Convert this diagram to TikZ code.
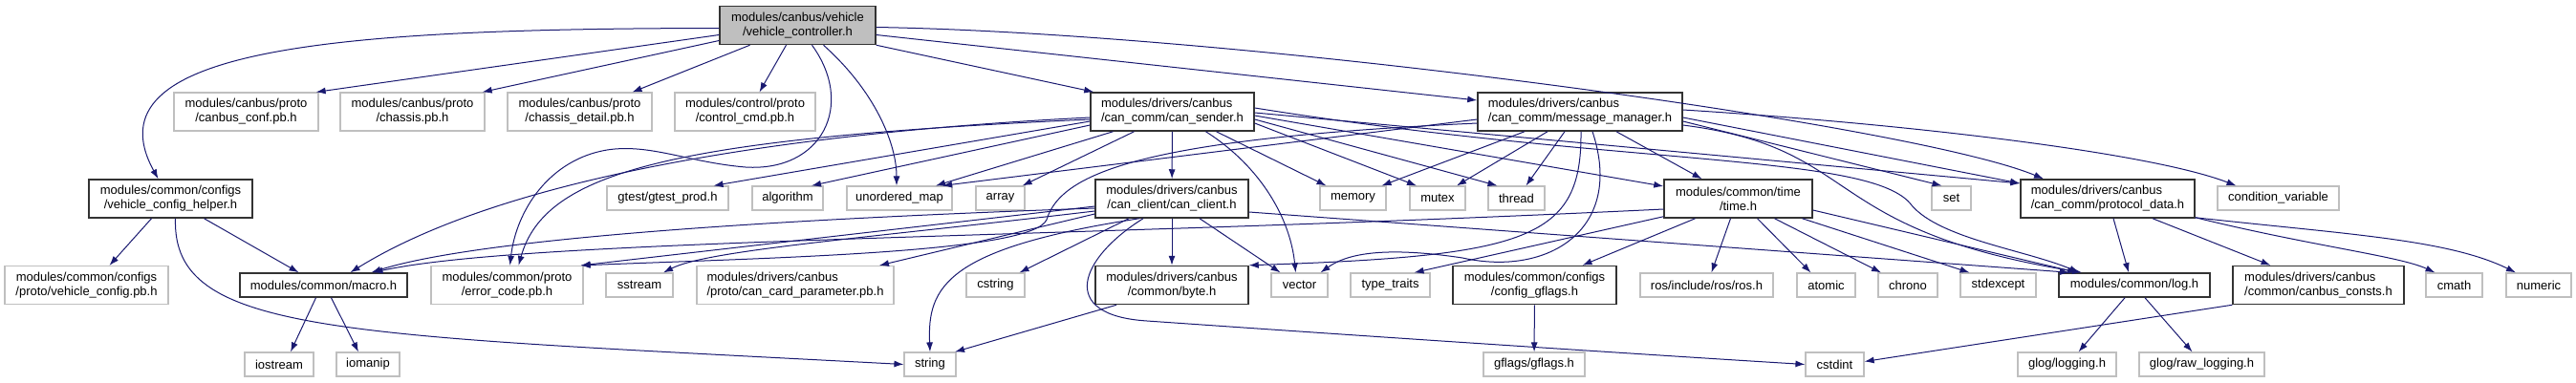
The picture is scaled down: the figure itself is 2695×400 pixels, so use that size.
\documentclass[tikz,border=0pt]{standalone}
\usepackage{fontspec}
\setmainfont{Liberation Sans}
\usepackage{xcolor}
\usepackage{tikz}
\usetikzlibrary{arrows.meta}
\definecolor{edgeblue}{HTML}{191970}
\definecolor{extgray}{HTML}{BFBFBF}
\newcommand{\gfont}{\fontsize{13}{15}\selectfont}
\tikzset{
  ext/.style={draw=extgray, line width=1.2pt, fill=white, align=center, inner xsep=2pt, inner ysep=2pt, minimum height=25pt},
  doc/.style={ext, draw=black!80, line width=1.5pt},
  root/.style={doc, fill=extgray},
  two/.style={minimum height=40pt},
  inc/.style={-{Latex[length=10pt,width=7pt]}, draw=edgeblue, line width=1pt},
}

\begin{document}
\begin{tikzpicture}[x=1pt, y=-1pt, font=\gfont]
  \useasboundingbox (0,0) rectangle (2695,400);
  \node[root, two, minimum width=163pt] (vc) at (834.5,26.5) {modules/canbus/vehicle\\/vehicle\_controller.h};
  \node[doc, two, minimum width=171pt] (vch) at (178.5,208) {modules/common/configs\\/vehicle\_config\_helper.h};
  \node[ext, two, minimum width=151pt] (canbusconf) at (257.5,117) {modules/canbus/proto\\/canbus\_conf.pb.h};
  \node[ext, two, minimum width=151pt] (chassis) at (431.5,117) {modules/canbus/proto\\/chassis.pb.h};
  \node[ext, two, minimum width=151pt] (chassisdetail) at (606.5,117) {modules/canbus/proto\\/chassis\_detail.pb.h};
  \node[ext, two, minimum width=147pt] (controlcmd) at (779.5,117) {modules/control/proto\\/control\_cmd.pb.h};
  \node[doc, two, minimum width=171pt, align=left] (cansender) at (1226.5,117) {modules/drivers/canbus\\/can\_comm/can\_sender.h};
  \node[doc, two, minimum width=214pt, align=left] (msgmanager) at (1653,117) {modules/drivers/canbus\\/can\_comm/message\_manager.h};
  \node[ext, minimum width=127pt] (gtest) at (698.5,207.5) {gtest/gtest\_prod.h};
  \node[ext, minimum width=74pt] (algorithm) at (824,207.5) {algorithm};
  \node[ext, minimum width=110pt] (umap) at (941,207.5) {unordered\_map};
  \node[ext, minimum width=51pt] (array) at (1046.5,207.5) {array};
  \node[doc, two, minimum width=160pt] (canclient) at (1226,208) {modules/drivers/canbus\\/can\_client/can\_client.h};
  \node[ext, minimum width=69pt] (memory) at (1415.5,207.5) {memory};
  \node[ext, minimum width=58pt] (mutex) at (1504,207.5) {mutex};
  \node[ext, minimum width=59pt] (thread) at (1586.5,207.5) {thread};
  \node[doc, two, minimum width=155pt] (time) at (1818.5,208) {modules/common/time\\/time.h};
  \node[ext, minimum width=41pt] (set) at (2041.5,207.5) {set};
  \node[doc, two, minimum width=182pt, align=left] (protocol) at (2205,208) {modules/drivers/canbus\\/can\_comm/protocol\_data.h};
  \node[ext, minimum width=127pt] (condvar) at (2383.5,207.5) {condition\_variable};
  \node[ext, two, minimum width=171pt] (vehcfgpb) at (90.5,298.5) {modules/common/configs\\/proto/vehicle\_config.pb.h};
  \node[doc, minimum width=175pt] (macro) at (338.5,298.5) {modules/common/macro.h};
  \node[ext, two, minimum width=159pt] (errorcode) at (530.5,298.5) {modules/common/proto\\/error\_code.pb.h};
  \node[ext, minimum width=70pt] (sstream) at (669,298.5) {sstream};
  \node[ext, two, minimum width=206pt, align=left] (cancard) at (832,298.5) {modules/drivers/canbus\\/proto/can\_card\_parameter.pb.h};
  \node[ext, minimum width=61pt] (cstring) at (1041.5,298.5) {cstring};
  \node[doc, two, minimum width=160pt] (byte) at (1226,298.5) {modules/drivers/canbus\\/common/byte.h};
  \node[ext, minimum width=59pt] (vector) at (1359.5,298.5) {vector};
  \node[ext, minimum width=83pt] (typetraits) at (1454.5,298.5) {type\_traits};
  \node[doc, two, minimum width=171pt] (cfggflags) at (1605.5,298.5) {modules/common/configs\\/config\_gflags.h};
  \node[ext, minimum width=139pt] (ros) at (1785.5,298.5) {ros/include/ros/ros.h};
  \node[ext, minimum width=61pt] (atomic) at (1910.5,298.5) {atomic};
  \node[ext, minimum width=62pt] (chrono) at (1996,298.5) {chrono};
  \node[ext, minimum width=79pt] (stdexcept) at (2090.5,298.5) {stdexcept};
  \node[doc, minimum width=158pt] (log) at (2233,298.5) {modules/common/log.h};
  \node[doc, two, minimum width=179pt, align=left] (consts) at (2425.5,298.5) {modules/drivers/canbus\\/common/canbus\_consts.h};
  \node[ext, minimum width=59pt] (cmath) at (2567.5,298.5) {cmath};
  \node[ext, minimum width=68pt] (numeric) at (2656,298.5) {numeric};
  \node[ext, minimum width=72pt] (iostream) at (292,381.5) {iostream};
  \node[ext, minimum width=66pt] (iomanip) at (385,381.5) {iomanip};
  \node[ext, minimum width=54pt] (string) at (973,381.5) {string};
  \node[ext, minimum width=106pt] (gflags) at (1605,381.5) {gflags/gflags.h};
  \node[ext, minimum width=61pt] (cstdint) at (1919.5,381.5) {cstdint};
  \node[ext, minimum width=103pt] (glog) at (2162.5,381.5) {glog/logging.h};
  \node[ext, minimum width=131pt] (rawlog) at (2303.5,381.5) {glog/raw\_logging.h};
  % vehicle_controller.h
  \draw[inc] ([yshift=-3pt]vc.west) .. controls (350,30) and (90,50) .. ([xshift=-13pt]vch.north);
  \draw[inc] ([yshift=-10pt]vc.west) -- ([xshift=-3pt]canbusconf.north east);
  \draw[inc] ([yshift=-16pt]vc.west) -- ([xshift=-3pt]chassis.north east);
  \draw[inc] ([xshift=-50pt]vc.south) -- ([xshift=55pt]chassisdetail.north);
  \draw[inc] ([xshift=-12pt]vc.south) -- ([xshift=15pt]controlcmd.north);
  \draw[inc] ([xshift=15pt]vc.south) .. controls (895,110) and (860,180) .. (780,175) .. controls (720,170) and (680,150) .. (635,157) .. controls (575,167) and (540,220) .. ([xshift=3pt]errorcode.north);
  \draw[inc] ([xshift=27pt]vc.south) .. controls (915,95) and (938,150) .. ([xshift=-3pt]umap.north);
  \draw[inc] (vc.south east) -- ([xshift=4pt]cansender.north west);
  \draw[inc] ([yshift=-10pt]vc.east) -- ([yshift=12pt]msgmanager.west);
  \draw[inc] ([yshift=-2pt]vc.east) .. controls (1300,35) and (2000,130) .. ([xshift=-67pt]protocol.north);
  % vehicle_config_helper.h, macro.h
  \draw[inc] ([xshift=-20pt]vch.south) -- ([xshift=24pt]vehcfgpb.north);
  \draw[inc] ([xshift=35pt]vch.south) -- ([xshift=-26pt]macro.north);
  \draw[inc] ([xshift=5pt]vch.south) .. controls (180,350) and (350,350) .. (string.west);
  \draw[inc] ([xshift=-8pt]macro.south) -- ([xshift=12pt]iostream.north);
  \draw[inc] ([xshift=8pt]macro.south) -- ([xshift=-10pt]iomanip.north);
  % can_sender.h
  \draw[inc] ([yshift=-10pt]cansender.west) -- ([xshift=48pt]gtest.north);
  \draw[inc] ([yshift=-14pt]cansender.west) -- ([xshift=25pt]algorithm.north);
  \draw[inc] ([xshift=-62pt]cansender.south) -- ([xshift=38pt]umap.north);
  \draw[inc] ([xshift=-40pt]cansender.south) -- ([xshift=-3pt]array.north east);
  \draw[inc] (cansender) -- (canclient);
  \draw[inc] ([xshift=46pt]cansender.south) -- ([xshift=-28pt]memory.north);
  \draw[inc] ([yshift=-12pt]cansender.east) -- ([xshift=-22pt]mutex.north);
  \draw[inc] ([yshift=-8pt]cansender.east) -- ([xshift=-20pt]thread.north);
  \draw[inc] ([yshift=-4pt]cansender.east) -- ([yshift=13pt]time.west);
  \draw[inc] ([xshift=35pt]cansender.south) .. controls (1320,175) and (1350,230) .. ([xshift=-4pt]vector.north);
  \draw[inc] ([yshift=4pt]cansender.east) .. controls (1700,175) and (1960,160) .. (2000,215) .. controls (2030,250) and (2120,262) .. ([xshift=-58pt]log.north);
  \draw[inc] ([yshift=-1pt]cansender.east) -- ([yshift=16pt]protocol.west);
  \draw[inc] ([yshift=-6pt]cansender.west) .. controls (800,140) and (520,190) .. ([xshift=28pt]macro.north);
  \draw[inc] ([yshift=-8pt]cansender.west) .. controls (700,145) and (570,180) .. ([xshift=12pt]errorcode.north);
  % can_client.h
  \draw[inc] ([yshift=-13pt]canclient.west) .. controls (900,250) and (740,262) .. ([xshift=25pt]sstream.north);
  \draw[inc] ([yshift=-16pt]canclient.west) -- ([xshift=88pt]cancard.north);
  \draw[inc] ([xshift=-45pt]canclient.south) -- ([xshift=25pt]cstring.north);
  \draw[inc] ([xshift=-34pt]canclient.south) .. controls (990,260) and (970,300) .. (string.north);
  \draw[inc] (canclient) -- (byte);
  \draw[inc] ([xshift=29pt]canclient.south) -- ([xshift=-20pt]vector.north);
  \draw[inc] ([yshift=-14pt]canclient.east) -- ([xshift=-68pt]log.north);
  \draw[inc] ([xshift=-30pt]canclient.south) .. controls (1130,270) and (1105,330) .. (1200,336) .. controls (1400,350) and (1700,370) .. (cstdint.west);
  \draw[inc] ([yshift=-10pt]canclient.west) .. controls (800,230) and (500,250) .. ([xshift=50pt]macro.north);
  \draw[inc] ([yshift=-8pt]canclient.west) -- ([xshift=-3pt]errorcode.north east);
  % message_manager.h
  \draw[inc] ([yshift=-8pt]msgmanager.west) -- ([xshift=45pt]umap.north);
  \draw[inc] ([yshift=-12pt]msgmanager.west) .. controls (1200,145) and (1110,180) .. (1095,230) .. controls (1080,265) and (800,270) .. ([xshift=-3pt]errorcode.north east);
  \draw[inc] ([xshift=-58pt]msgmanager.south) -- ([xshift=30pt]memory.north);
  \draw[inc] ([xshift=-34pt]msgmanager.south) -- ([xshift=20pt]mutex.north);
  \draw[inc] ([xshift=-16pt]msgmanager.south) -- ([xshift=10pt]thread.north);
  \draw[inc] ([xshift=38pt]msgmanager.south) -- ([xshift=-38pt]time.north);
  \draw[inc] ([xshift=1pt]msgmanager.south) .. controls (1655,250) and (1600,268) .. (byte.north east);
  \draw[inc] ([xshift=13pt]msgmanager.south) .. controls (1700,240) and (1620,290) .. (1530,270) .. controls (1450,258) and (1410,265) .. ([xshift=22pt]vector.north);
  \draw[inc] ([yshift=-10pt]msgmanager.east) -- ([xshift=-10pt]set.north);
  \draw[inc] ([yshift=-6pt]msgmanager.east) -- ([yshift=16pt]protocol.west);
  \draw[inc] ([yshift=2pt]msgmanager.east) .. controls (2000,130) and (2250,160) .. ([xshift=-44pt]condvar.north);
  \draw[inc] ([yshift=-14pt]msgmanager.east) .. controls (1950,155) and (1900,240) .. ([xshift=-55pt]log.north);
  % time.h
  \draw[inc] ([yshift=-11pt]time.west) .. controls (1100,250) and (550,250) .. ([xshift=52pt]macro.north);
  \draw[inc] ([yshift=2pt]time.south west) -- ([xshift=25pt]typetraits.north);
  \draw[inc] ([xshift=-45pt]time.south) -- ([xshift=50pt]cfggflags.north);
  \draw[inc] ([xshift=-8pt]time.south) -- ([xshift=5pt]ros.north);
  \draw[inc] ([xshift=20pt]time.south) -- ([xshift=-16pt]atomic.north);
  \draw[inc] ([xshift=38pt]time.south) -- ([xshift=-28pt]chrono.north);
  \draw[inc] ([xshift=67pt]time.south) -- ([xshift=-30pt]stdexcept.north);
  \draw[inc] ([yshift=-12pt]time.east) -- ([xshift=-60pt]log.north);
  % lower levels
  \draw[inc] (cfggflags) -- (gflags);
  \draw[inc] ([xshift=-58pt]byte.south) -- ([xshift=26pt]string.north);
  \draw[inc] ([xshift=6pt]protocol.south) -- ([xshift=-6pt]log.north);
  \draw[inc] ([xshift=47pt]protocol.south) -- ([xshift=-50pt]consts.north);
  \draw[inc] ([yshift=1pt]protocol.south east) .. controls (2420,258) and (2510,268) .. ([xshift=-20pt]cmath.north);
  \draw[inc] ([yshift=1pt]protocol.south east) .. controls (2450,245) and (2560,250) .. ([xshift=-24pt]numeric.north);
  \draw[inc] ([xshift=-10pt]log.south) -- ([xshift=12pt]glog.north);
  \draw[inc] ([xshift=11pt]log.south) -- ([xshift=-10pt]rawlog.north);
  \draw[inc] (consts.south west) -- ([yshift=3pt]cstdint.east);
\end{tikzpicture}
\end{document}
